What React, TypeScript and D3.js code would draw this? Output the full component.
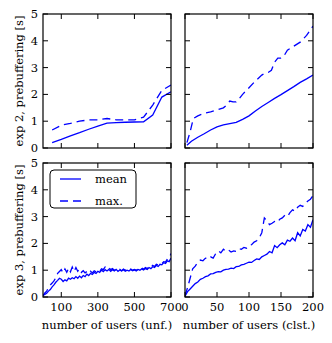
import React from "react";
import * as d3 from "d3";

// ---- Data ----
const unfX2 = [50, 100, 150, 200, 250, 300, 350, 400, 450, 500, 550, 600, 650, 700];
const unfMean2 = [0.2, 0.32, 0.45, 0.57, 0.7, 0.82, 0.93, 0.95, 0.96, 0.97, 0.98, 1.23, 1.9, 2.1];
const unfMax2 = [0.67, 0.85, 0.92, 1.0, 1.05, 1.05, 1.1, 1.05, 1.05, 1.05, 1.15, 1.6, 2.15, 2.35];

const clstX2 = [3, 10, 20, 30, 40, 50, 60, 70, 80, 90, 100, 110, 120, 130, 140, 150, 160, 170, 180, 190, 200];
const clstMean2 = [0.1, 0.25, 0.4, 0.53, 0.67, 0.79, 0.86, 0.91, 0.96, 1.07, 1.2, 1.38, 1.55, 1.7, 1.85, 1.99, 2.14, 2.29, 2.45, 2.58, 2.72];
const clstMaxX2 = [3, 8, 13, 20, 30, 40, 50, 60, 65, 70, 75, 80, 85, 90, 100, 110, 120, 125, 130, 135, 140, 145, 150, 155, 160, 170, 180, 190, 200];
const clstMax2 = [0.2, 0.6, 1.1, 1.2, 1.3, 1.35, 1.42, 1.5, 1.6, 1.75, 1.72, 1.72, 1.85, 2.0, 2.25, 2.5, 2.72, 2.8, 2.82, 2.9, 3.2, 3.35, 3.35, 3.45, 3.65, 3.8, 3.95, 4.2, 4.55];

const unfX3 = d3.range(0, 701, 10);
const unfMean3 = [0.05, 0.1, 0.14, 0.22, 0.28, 0.38, 0.45, 0.55, 0.62, 0.7, 0.66, 0.58, 0.64, 0.6, 0.7, 0.66, 0.72, 0.68, 0.76, 0.7, 0.78, 0.72, 0.8, 0.76, 0.85, 0.8, 0.88, 0.84, 0.92, 0.88, 0.96, 0.92, 1.0, 0.95, 1.02, 0.97, 1.03, 0.96, 1.02, 0.97, 1.03, 0.96, 1.01, 0.97, 1.02, 0.96, 1.0, 0.97, 1.03, 0.98, 1.01, 0.97, 1.03, 1.0, 1.05, 1.01, 1.06, 1.03, 1.1, 1.06, 1.13, 1.1, 1.18, 1.14, 1.22, 1.2, 1.28, 1.25, 1.35, 1.32, 1.45];
const unfMax3 = [0.05, 0.15, 0.22, 0.35, 0.45, 0.52, 0.6, 0.72, 0.88, 0.95, 1.02, 0.9, 1.05, 0.92, 1.08, 0.94, 1.12, 0.95, 1.1, 0.96, 1.05, 0.92, 0.98, 0.9, 0.95, 0.88, 0.96, 0.9, 0.98, 0.94, 1.0, 0.96, 1.05, 1.02, 1.12, 1.06, 1.1, 1.02, 1.06, 1.0, 1.04, 0.99, 1.03, 0.98, 1.04, 1.0, 1.02, 0.99, 1.04, 1.0, 1.03, 1.0, 1.05, 1.02, 1.08, 1.04, 1.1, 1.06, 1.14, 1.1, 1.18, 1.14, 1.22, 1.2, 1.26, 1.24, 1.32, 1.3, 1.42, 1.45, 1.62];

const clstX3 = d3.range(0, 201, 4);
const clstMean3 = [0.03, 0.2, 0.3, 0.4, 0.5, 0.56, 0.66, 0.7, 0.76, 0.79, 0.86, 0.87, 0.92, 0.95, 0.94, 1.0, 1.03, 1.04, 1.08, 1.06, 1.13, 1.14, 1.2, 1.22, 1.26, 1.3, 1.29, 1.36, 1.42, 1.4, 1.5, 1.55, 1.6, 1.7, 1.65, 1.92, 1.84, 1.95, 2.02, 1.95, 2.12, 2.08, 2.2, 2.1, 2.4, 2.28, 2.52, 2.46, 2.7, 2.6, 2.88];
const clstMax3 = [0.05, 0.35, 0.7, 1.05, 1.15, 1.3, 1.38, 1.35, 1.45, 1.42, 1.5, 1.45, 1.62, 1.72, 1.65, 1.78, 1.7, 1.75, 1.68, 1.72, 1.7, 1.8, 1.78, 1.85, 1.82, 1.92, 1.95, 2.05, 2.1, 2.2, 2.4, 2.95, 2.85, 2.7, 2.75, 2.82, 2.78, 2.9, 2.95, 3.05, 3.0, 3.15, 3.25, 3.2, 3.35, 3.42, 3.38, 3.5, 3.58, 3.65, 3.78];

const yTicks = [0, 1, 2, 3, 4, 5];
const unfTicks = [100, 300, 500, 700];
const clstTicks = [0, 50, 100, 150, 200];
const rowLabels = ["exp 2, prebuffering [s]", "exp 3, prebuffering [s]"];
const colLabels = ["number of users (unf.)", "number of users (clst.)"];
const legendLabels = ["mean", "max."];

// ---- Layout ----
const W = 332, H = 343;
const cols = [[43, 171], [185, 313]];
const rows = [[14, 148], [163, 297]];
const FS = 11.5;
const FONT = "DejaVu Serif";
const BLUE = "#0000ff";
const DASH = "8,5";
const TICK = 5;

type Series = { x: number[]; y: number[]; dashed: boolean };

function Panel({ c, r, domain, ticks, series, id }: { c: number; r: number; domain: [number, number]; ticks: number[]; series: Series[]; id: string }) {
  const [x0, x1] = cols[c];
  const [y0, y1] = rows[r];
  const xs = d3.scaleLinear().domain(domain).range([x0, x1]);
  const ys = d3.scaleLinear().domain([0, 5]).range([y1, y0]);
  const line = (s: Series) =>
    d3.line<number>().x((_, i) => xs(s.x[i])).y((v) => ys(v))(s.y) || "";
  return (
    <g>
      <defs>
        <clipPath id={id}>
          <rect x={x0} y={y0} width={x1 - x0} height={y1 - y0} />
        </clipPath>
      </defs>
      <g clipPath={`url(#${id})`}>
        {series.map((s, i) => (
          <path key={i} d={line(s)} fill="none" stroke={BLUE} strokeWidth={1.3} strokeDasharray={s.dashed ? DASH : undefined} />
        ))}
      </g>
      {ticks.map((t) => (
        <g key={"x" + t}>
          <line x1={xs(t)} x2={xs(t)} y1={y1} y2={y1 - TICK} stroke="#000" />
          <line x1={xs(t)} x2={xs(t)} y1={y0} y2={y0 + TICK} stroke="#000" />
          {r === 1 && (
            <text x={xs(t)} y={311} textAnchor="middle" fontSize={FS} fontFamily={FONT}>{t}</text>
          )}
        </g>
      ))}
      {yTicks.map((t) => (
        <g key={"y" + t}>
          <line x1={x0} x2={x0 + TICK} y1={ys(t)} y2={ys(t)} stroke="#000" />
          <line x1={x1} x2={x1 - TICK} y1={ys(t)} y2={ys(t)} stroke="#000" />
          {c === 0 && (
            <text x={38} y={ys(t)} dy="0.35em" textAnchor="end" fontSize={FS} fontFamily={FONT}>{t}</text>
          )}
        </g>
      ))}
      <rect x={x0} y={y0} width={x1 - x0} height={y1 - y0} fill="none" stroke="#000" strokeWidth={1.2} />
    </g>
  );
}

export default function App() {
  return (
    <svg width={W} height={H} style={{ position: "absolute", left: 0, top: 0, background: "#fff" }}>
      <rect x={0} y={0} width={W} height={H} fill="#fff" />
      <Panel id="p00" c={0} r={0} domain={[0, 700]} ticks={unfTicks}
        series={[{ x: unfX2, y: unfMean2, dashed: false }, { x: unfX2, y: unfMax2, dashed: true }]} />
      <Panel id="p01" c={1} r={0} domain={[0, 200]} ticks={clstTicks}
        series={[{ x: clstX2, y: clstMean2, dashed: false }, { x: clstMaxX2, y: clstMax2, dashed: true }]} />
      <Panel id="p10" c={0} r={1} domain={[0, 700]} ticks={unfTicks}
        series={[{ x: unfX3, y: unfMean3, dashed: false }, { x: unfX3, y: unfMax3, dashed: true }]} />
      <Panel id="p11" c={1} r={1} domain={[0, 200]} ticks={clstTicks}
        series={[{ x: clstX3, y: clstMean3, dashed: false }, { x: clstX3, y: clstMax3, dashed: true }]} />
      {rowLabels.map((l, i) => (
        <text key={l} transform={`translate(23,${(rows[i][0] + rows[i][1]) / 2}) rotate(-90)`} textAnchor="middle" fontSize={FS} fontFamily={FONT}>{l}</text>
      ))}
      {colLabels.map((l, i) => (
        <text key={l} x={(cols[i][0] + cols[i][1]) / 2} y={329} textAnchor="middle" fontSize={FS} fontFamily={FONT}>{l}</text>
      ))}
      <rect x={50} y={170} width={86} height={38} rx={4} fill="#fff" stroke="#000" strokeWidth={1} />
      {legendLabels.map((l, i) => (
        <g key={l}>
          <line x1={60} x2={81} y1={179 + i * 22} y2={179 + i * 22} stroke={BLUE} strokeWidth={1.3} strokeDasharray={i === 1 ? DASH : undefined} />
          <text x={95} y={179 + i * 22} dy="0.32em" fontSize={FS} fontFamily={FONT}>{l}</text>
        </g>
      ))}
    </svg>
  );
}
